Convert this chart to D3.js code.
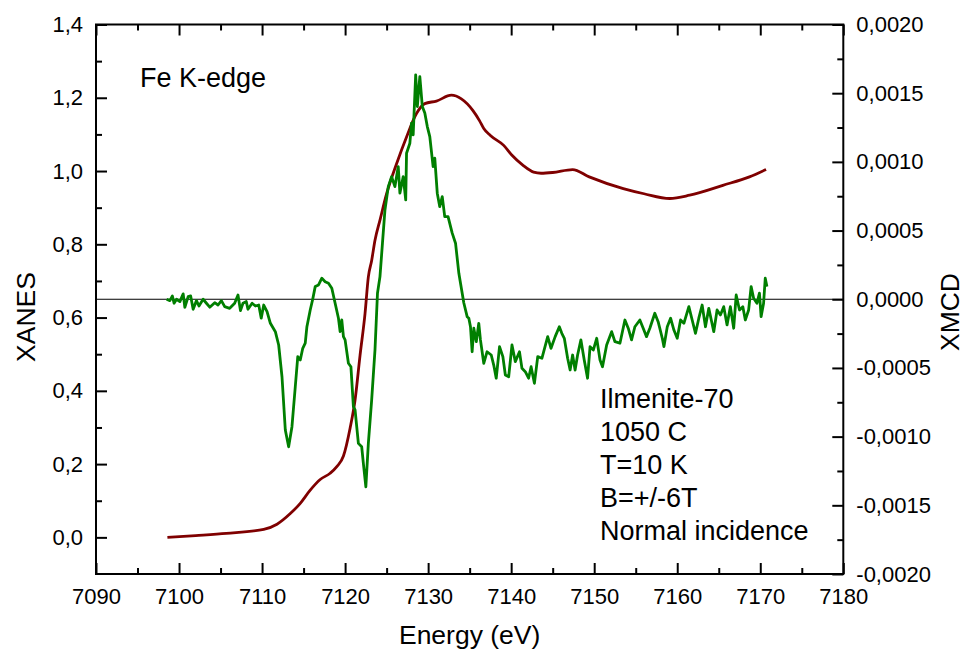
<!DOCTYPE html>
<html>
<head>
<meta charset="utf-8">
<script src="https://cdn.jsdelivr.net/npm/d3@7"></script>
<style>
  html, body { margin: 0; padding: 0; background: #fff; }
  svg { display: block; font-family: "Liberation Sans", Arial, sans-serif; }
</style>
</head>
<body>
<svg id="chart" width="966" height="653"></svg>
<script>
// ---------- data ----------
const xanesE = [7098.6, 7102, 7105.7, 7110.2, 7111.8, 7113.4, 7114.6, 7115.8, 7117.0, 7118.2, 7119.0, 7119.8, 7120.6, 7121.2, 7121.8, 7122.4, 7122.8, 7123.2, 7123.6, 7124.2, 7125.0, 7126.2, 7127.4, 7128.6, 7129.6, 7131.0, 7132.8, 7134.0, 7135.4, 7136.2, 7136.7, 7137.5, 7139.1, 7140.1, 7141.4, 7142.7, 7143.6, 7145.0, 7147.4, 7149.4, 7153.5, 7156.0, 7159.1, 7161.5, 7165.5, 7168.7, 7170.7];
const xanesV = [0.000, 0.005, 0.011, 0.022, 0.036, 0.065, 0.093, 0.129, 0.158, 0.175, 0.193, 0.222, 0.298, 0.375, 0.497, 0.611, 0.711, 0.756, 0.811, 0.866, 0.938, 1.020, 1.093, 1.157, 1.184, 1.191, 1.207, 1.197, 1.165, 1.137, 1.116, 1.097, 1.070, 1.043, 1.016, 0.997, 0.994, 0.996, 1.004, 0.984, 0.952, 0.938, 0.925, 0.934, 0.961, 0.984, 1.004];

const xmcdE = [7098.5, 7098.9, 7099.2, 7099.4, 7099.7, 7100.1, 7100.5, 7100.7, 7101.1, 7101.4, 7101.7, 7102.1, 7102.4, 7102.9, 7103.3, 7103.7, 7104.3, 7104.7, 7105.1, 7105.5, 7106.1, 7106.7, 7107.1, 7107.4, 7107.7, 7108.1, 7108.3, 7108.8, 7109.2, 7109.6, 7109.9, 7110.2, 7110.6, 7111.0, 7111.6, 7112.0, 7112.4, 7112.8, 7113.2, 7113.6, 7114.0, 7114.3, 7114.6, 7114.9, 7115.2, 7115.4, 7115.8, 7116.1, 7116.4, 7116.8, 7117.2, 7117.6, 7118.0, 7118.4, 7118.8, 7119.2, 7119.4, 7119.6, 7119.8, 7120.0, 7120.4, 7120.7, 7121.0, 7121.2, 7121.4, 7121.6, 7122.0, 7122.2, 7122.5, 7122.8, 7123.2, 7123.6, 7123.9, 7124.2, 7124.5, 7124.8, 7125.2, 7125.6, 7126.0, 7126.4, 7126.6, 7127.0, 7127.3, 7127.4, 7127.8, 7128.0, 7128.2, 7128.5, 7128.7, 7129.0, 7129.3, 7129.6, 7129.9, 7130.2, 7130.6, 7130.8, 7131.1, 7131.4, 7131.7, 7132.0, 7132.4, 7132.9, 7133.3, 7133.7, 7133.9, 7134.3, 7134.7, 7134.9, 7135.1, 7135.3, 7135.5, 7135.8, 7136.1, 7136.3, 7136.7, 7137.1, 7137.6, 7137.9, 7138.2, 7138.6, 7139.0, 7139.3, 7139.7, 7140.1, 7140.5, 7141.0, 7141.3, 7141.7, 7142.1, 7142.4, 7142.8, 7143.2, 7143.7, 7144.4, 7144.8, 7145.3, 7145.8, 7146.1, 7146.4, 7146.8, 7147.1, 7147.4, 7147.7, 7148.0, 7148.4, 7148.8, 7149.2, 7149.5, 7149.9, 7150.3, 7150.7, 7151.0, 7151.5, 7152.1, 7152.5, 7153.1, 7153.7, 7154.1, 7154.5, 7154.9, 7155.5, 7155.9, 7156.3, 7156.7, 7157.3, 7157.7, 7158.2, 7158.4, 7158.8, 7159.2, 7159.6, 7160.0, 7160.4, 7160.8, 7161.4, 7161.8, 7162.2, 7162.6, 7163.0, 7163.4, 7163.8, 7164.4, 7164.8, 7165.2, 7165.6, 7166.0, 7166.4, 7166.8, 7167.1, 7167.5, 7167.9, 7168.2, 7168.6, 7168.9, 7169.2, 7169.6, 7169.9, 7170.1, 7170.4, 7170.6, 7170.8];
const xmcdV = [0, -0.10e-4, 0.24e-4, -0.29e-4, 0, -0.17e-4, 0.39e-4, -0.58e-4, 0.19e-4, 0.24e-4, -0.73e-4, -0.10e-4, -0.49e-4, 0, -0.29e-4, -0.58e-4, -0.25e-4, -0.42e-4, -0.10e-4, -0.54e-4, -0.66e-4, -0.29e-4, 0.31e-4, -0.83e-4, -0.29e-4, -0.17e-4, -0.73e-4, -0.29e-4, -0.49e-4, -0.42e-4, -1.38e-4, -0.42e-4, -0.90e-4, -1.75e-4, -2.36e-4, -3.33e-4, -5.64e-4, -9.52e-4, -10.74e-4, -9.28e-4, -6.37e-4, -4.18e-4, -4.42e-4, -3.57e-4, -3.20e-4, -2.00e-4, -0.78e-4, 0, 0.92e-4, 1.04e-4, 1.53e-4, 1.28e-4, 1.17e-4, 0.80e-4, -0.29e-4, -1.38e-4, -2.36e-4, -1.51e-4, -2.72e-4, -2.96e-4, -4.66e-4, -4.91e-4, -7.82e-4, -8.06e-4, -9.28e-4, -10.49e-4, -10.74e-4, -11.94e-4, -13.65e-4, -10.49e-4, -7.33e-4, -3.69e-4, 0.44e-4, 1.65e-4, 4.08e-4, 6.50e-4, 8.20e-4, 8.93e-4, 8.20e-4, 9.66e-4, 7.72e-4, 8.93e-4, 7.23e-4, 10.63e-4, 11.36e-4, 12.82e-4, 11.97e-4, 16.34e-4, 14.03e-4, 16.21e-4, 14.03e-4, 13.55e-4, 12.57e-4, 11.84e-4, 9.66e-4, 10.27e-4, 7.72e-4, 6.74e-4, 7.47e-4, 6.02e-4, 6.02e-4, 4.81e-4, 4.08e-4, 1.89e-4, 1.17e-4, -0.27e-4, -1.27e-4, -1.38e-4, -2.00e-4, -3.82e-4, -2.11e-4, -3.09e-4, -1.75e-4, -2.96e-4, -4.66e-4, -3.82e-4, -4.06e-4, -4.79e-4, -5.75e-4, -3.45e-4, -4.18e-4, -5.51e-4, -5.64e-4, -3.33e-4, -4.54e-4, -3.82e-4, -5.03e-4, -5.27e-4, -5.75e-4, -4.91e-4, -6.12e-4, -4.18e-4, -4.30e-4, -2.72e-4, -3.57e-4, -2.72e-4, -2.00e-4, -2.48e-4, -2.84e-4, -4.30e-4, -5.15e-4, -4.06e-4, -5.15e-4, -4.06e-4, -2.96e-4, -4.42e-4, -5.75e-4, -3.45e-4, -3.69e-4, -2.84e-4, -4.42e-4, -4.91e-4, -3.33e-4, -2.36e-4, -3.09e-4, -3.20e-4, -1.51e-4, -2.11e-4, -2.96e-4, -2.00e-4, -1.51e-4, -2.11e-4, -2.72e-4, -2.11e-4, -1.02e-4, -1.63e-4, -2.84e-4, -3.45e-4, -2.00e-4, -1.38e-4, -2.24e-4, -2.84e-4, -1.51e-4, -1.75e-4, -0.54e-4, -1.51e-4, -2.48e-4, -1.38e-4, -0.42e-4, -2.00e-4, -0.66e-4, -2.36e-4, -0.78e-4, -1.14e-4, -0.54e-4, -1.87e-4, -0.54e-4, -2.11e-4, 0.31e-4, -0.78e-4, -0.54e-4, -1.51e-4, -0.78e-4, 0.92e-4, 0.07e-4, -0.29e-4, 0.44e-4, -1.27e-4, -0.29e-4, 1.53e-4, 0.92e-4];

const xTicks = [7090, 7100, 7110, 7120, 7130, 7140, 7150, 7160, 7170, 7180];
const yLeftTicks = [0.0, 0.2, 0.4, 0.6, 0.8, 1.0, 1.2, 1.4];
const yRightTicks = [-0.0020, -0.0015, -0.0010, -0.0005, 0.0000, 0.0005, 0.0010, 0.0015, 0.0020];
const annotation = ["Ilmenite-70", "1050 C", "T=10 K", "B=+/-6T", "Normal incidence"];
const edgeLabel = "Fe K-edge";

// ---------- layout ----------
const L = 96, R = 843.3, T = 24.5, B = 574;
const svg = d3.select("#chart");
const font = "'Liberation Sans', Arial, sans-serif";

const x = d3.scaleLinear().domain([7090, 7180]).range([L, R]);
const yL = d3.scaleLinear().domain([-0.1, 1.4]).range([B, T]);
const yR = d3.scaleLinear().domain([-0.002, 0.002]).range([B, T]);

const fmtL = v => d3.format(".1f")(v).replace(".", ",").replace("\u2212", "-");
const fmtR = v => d3.format(".4f")(Math.abs(v) < 1e-12 ? 0 : v).replace(".", ",").replace("\u2212", "-");

const minorX = d3.range(7095, 7180, 10);
const minorL = [0.1, 0.3, 0.5, 0.7, 0.9, 1.1, 1.3];
const minorR = [-0.00175, -0.00125, -0.00075, -0.00025, 0.00025, 0.00075, 0.00125, 0.00175];

function styleAxis(g) {
  g.select(".domain").remove();
  g.selectAll(".tick line").attr("stroke", "#000").attr("stroke-width", 2);
  g.selectAll(".tick text").attr("fill", "#000").attr("font-size", 22).attr("font-family", font);
}

// bottom axis (ticks inward)
svg.append("g").attr("transform", `translate(0,${B})`)
  .call(d3.axisBottom(x).tickValues(xTicks).tickFormat(d3.format("d")).tickSizeInner(-11).tickSizeOuter(0))
  .call(styleAxis)
  .call(g => g.selectAll(".tick text").attr("dy", "0.71em").attr("y", 14));
svg.append("g").attr("transform", `translate(0,${B})`)
  .call(d3.axisBottom(x).tickValues(minorX).tickFormat("").tickSizeInner(-6).tickSizeOuter(0))
  .call(styleAxis);
// top axis
svg.append("g").attr("transform", `translate(0,${T})`)
  .call(d3.axisTop(x).tickValues(xTicks).tickFormat("").tickSizeInner(-11).tickSizeOuter(0))
  .call(styleAxis);
svg.append("g").attr("transform", `translate(0,${T})`)
  .call(d3.axisTop(x).tickValues(minorX).tickFormat("").tickSizeInner(-6).tickSizeOuter(0))
  .call(styleAxis);
// left axis
svg.append("g").attr("transform", `translate(${L},0)`)
  .call(d3.axisLeft(yL).tickValues(yLeftTicks).tickFormat(fmtL).tickSizeInner(-11).tickSizeOuter(0))
  .call(styleAxis)
  .call(g => g.selectAll(".tick text").attr("x", -13));
svg.append("g").attr("transform", `translate(${L},0)`)
  .call(d3.axisLeft(yL).tickValues(minorL).tickFormat("").tickSizeInner(-6).tickSizeOuter(0))
  .call(styleAxis);
// right axis
svg.append("g").attr("transform", `translate(${R},0)`)
  .call(d3.axisRight(yR).tickValues(yRightTicks).tickFormat(fmtR).tickSizeInner(-11).tickSizeOuter(0))
  .call(styleAxis)
  .call(g => g.selectAll(".tick text").attr("x", 13));
svg.append("g").attr("transform", `translate(${R},0)`)
  .call(d3.axisRight(yR).tickValues(minorR).tickFormat("").tickSizeInner(-6).tickSizeOuter(0))
  .call(styleAxis);

// frame
svg.append("rect").attr("x", L).attr("y", T).attr("width", R - L).attr("height", B - T)
  .attr("fill", "none").attr("stroke", "#000").attr("stroke-width", 2);

// zero line for XMCD
svg.append("line").attr("x1", L).attr("x2", R).attr("y1", yR(0)).attr("y2", yR(0))
  .attr("stroke", "#000").attr("stroke-width", 1);

// curves
const xanes = xanesE.map((e, i) => [e, xanesV[i]]);
const xmcd = xmcdE.map((e, i) => [e, xmcdV[i]]);

svg.append("path").datum(xanes)
  .attr("fill", "none").attr("stroke", "#7f0000").attr("stroke-width", 2.8)
  .attr("stroke-linejoin", "round")
  .attr("d", d3.line().x(d => x(d[0])).y(d => yL(d[1])).curve(d3.curveMonotoneX));

svg.append("path").datum(xmcd)
  .attr("fill", "none").attr("stroke", "#007f00").attr("stroke-width", 2.8)
  .attr("stroke-linejoin", "round")
  .attr("d", d3.line().x(d => x(d[0])).y(d => yR(d[1])));

// labels
svg.append("text").attr("x", (L + R) / 2).attr("y", 644).attr("text-anchor", "middle")
  .attr("font-size", 26.5).attr("font-family", font).text("Energy (eV)");
svg.append("text").attr("transform", "translate(35,317) rotate(-90)").attr("text-anchor", "middle")
  .attr("font-size", 26.5).attr("font-family", font).text("XANES");
svg.append("text").attr("transform", "translate(959,312) rotate(-90)").attr("text-anchor", "middle")
  .attr("font-size", 26.5).attr("font-family", font).text("XMCD");
svg.append("text").attr("x", 140).attr("y", 87).attr("font-size", 27).attr("font-family", font).text(edgeLabel);

svg.append("g").selectAll("text").data(annotation).join("text")
  .attr("x", 600).attr("y", (d, i) => 408.3 + i * 33)
  .attr("font-size", 27).attr("font-family", font).text(d => d);
</script>
</body>
</html>
